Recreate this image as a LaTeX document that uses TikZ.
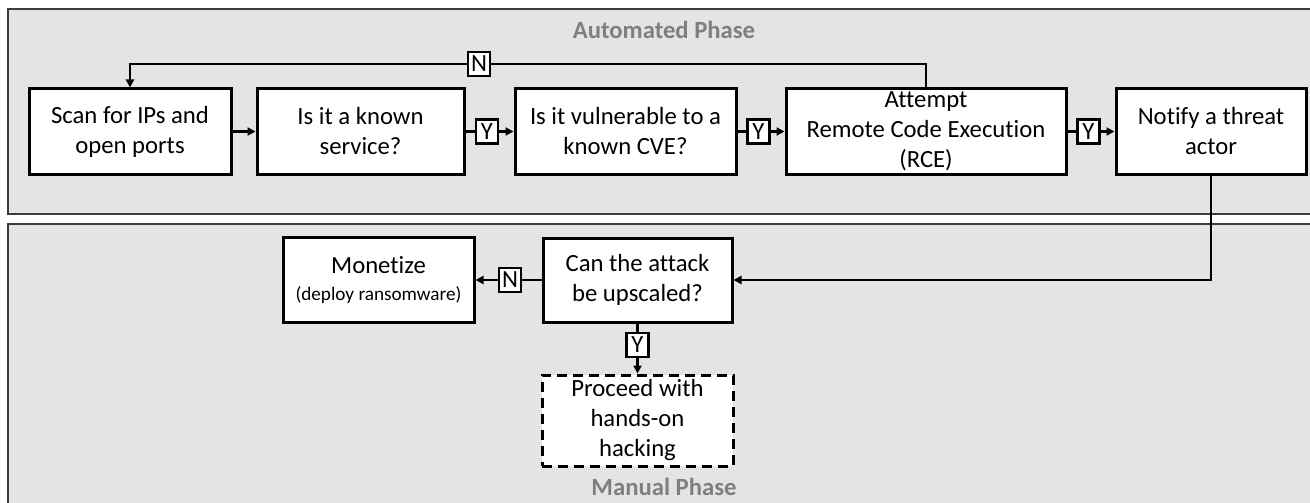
\documentclass[tikz,border=0pt]{standalone}
\usepackage{fontspec}
\setmainfont{Carlito}[RawFeature={-liga;-clig;-calt;-dlig}]
\usetikzlibrary{arrows.meta}
\definecolor{panelfill}{RGB}{228,228,228}
\definecolor{panelline}{RGB}{60,60,60}
\definecolor{phasegray}{RGB}{127,127,127}
\tikzset{
  panel/.style={fill=panelfill, draw=panelline, line width=1.3pt},
  phase/.style={font=\fontsize{24.7}{30}\selectfont\bfseries, text=phasegray, inner sep=0pt},
  stepbox/.style={draw, line width=3pt, fill=white, inner sep=0pt, align=center,
    font=\fontsize{24.7}{30}\selectfont},
  manualbox/.style={stepbox, dash pattern=on 10pt off 6pt},
  yn/.style={draw, line width=2.3pt, fill=white, inner sep=0pt, minimum width=22pt,
    minimum height=24pt, font=\fontsize{24.7}{30}\selectfont},
  flow/.style={line width=2.6pt},
  arrowflow/.style={flow, -{Triangle[length=8pt,width=8pt]}}
}
\begin{document}
\begin{tikzpicture}[x=1pt,y=-1pt]
\useasboundingbox (0,0) rectangle (1310,503);
\clip (0,0) rectangle (1310,503);

% phase panels
\draw[panel] (8,9) rectangle (1330,214);
\draw[panel] (8,224) rectangle (1330,530);
\node[phase] (auto) at (664,30) {Automated Phase};
\node[phase] (manual) at (664,487) {Manual Phase};

% automated steps
\node[stepbox, minimum width=202pt, minimum height=85pt] (scan) at (130,131.5) {Scan for IPs and\\open ports};
\node[stepbox, minimum width=207pt, minimum height=85pt] (known) at (360.5,131.5) {Is it a known\\service?};
\node[stepbox, minimum width=221pt, minimum height=85pt] (vuln) at (625.5,131.5) {Is it vulnerable to a\\known CVE?};
\node[stepbox, minimum width=280pt, minimum height=85pt] (rce) at (926,131.5) {Attempt\\Remote Code Execution\\(RCE)};
\node[stepbox, minimum width=190pt, minimum height=85pt] (notify) at (1211,131.5) {Notify a threat\\actor};

% manual steps
\node[stepbox, minimum width=191pt, minimum height=85pt] (monetize) at (378.5,280) {Monetize\\[-3pt]{\fontsize{19.2}{22}\selectfont (deploy ransomware)}};
\node[stepbox, minimum width=189pt, minimum height=84pt] (upscale) at (637.5,280) {Can the attack\\be upscaled?};
\node[manualbox, minimum width=191pt, minimum height=91pt] (proceed) at (637.5,420.5) {Proceed with\\hands-on\\hacking};

% decision labels
\node[yn] (y1) at (487,131.5) {Y};
\node[yn] (y2) at (758.5,131.5) {Y};
\node[yn] (y3) at (1088.5,131.5) {Y};
\node[yn] (n1) at (479,64) {N};
\node[yn] (n2) at (510,280) {N};
\node[yn] (y4) at (637.5,345) {Y};

% connectors
\draw[arrowflow] (scan) -- (known);
\draw[flow] (known) -- (y1);
\draw[arrowflow] (y1) -- (vuln);
\draw[flow] (vuln) -- (y2);
\draw[arrowflow] (y2) -- (rce);
\draw[flow] (rce) -- (y3);
\draw[arrowflow] (y3) -- (notify);
\draw[flow] (rce.north) |- (n1);
\draw[arrowflow] (n1) -| (scan.north);
\draw[arrowflow] (notify.south) |- (upscale.east);
\draw[flow] (upscale) -- (n2);
\draw[arrowflow] (n2) -- (monetize);
\draw[flow] (upscale) -- (y4);
\draw[arrowflow] (y4) -- (proceed);
\end{tikzpicture}
\end{document}
